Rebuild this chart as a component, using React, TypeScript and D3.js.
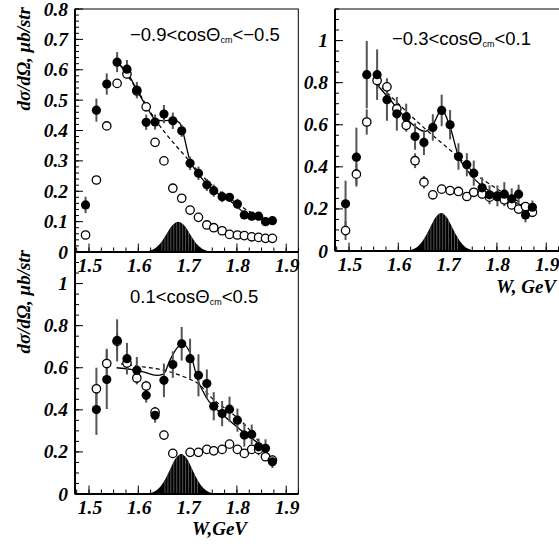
import React from 'react';
import * as d3 from 'd3';

// ---------- data ----------
const W = [1.493, 1.515, 1.536, 1.557, 1.577, 1.597, 1.616, 1.634, 1.652, 1.670, 1.688, 1.705, 1.722, 1.739, 1.753, 1.770, 1.785, 1.801, 1.815, 1.830, 1.844, 1.858, 1.872];

const P1_FILLED = [0.155, 0.467, 0.553, 0.625, 0.602, 0.533, 0.427, 0.428, 0.454, 0.432, 0.399, 0.292, 0.259, 0.221, 0.202, 0.182, 0.180, 0.158, 0.122, 0.118, 0.118, 0.100, 0.103];
const P1_FILLED_ERR = [0.027, 0.038, 0.035, 0.033, 0.030, 0.027, 0.025, 0.025, 0.030, 0.027, 0.020, 0.022, 0.022, 0.020, 0.020, 0.018, 0.014, 0.017, 0.014, 0.014, 0.014, 0.014, 0.013];
const P1_OPEN = [0.056, 0.237, 0.415, 0.555, 0.586, 0.530, 0.478, 0.361, 0.300, 0.210, 0.177, 0.138, 0.114, 0.089, 0.080, 0.070, 0.058, 0.056, 0.054, 0.050, 0.048, 0.045, 0.045];
const P1_OPEN_ERR = [0.005, 0.006, 0.007, 0.008, 0.008, 0.008, 0.007, 0.006, 0.006, 0.005, 0.005, 0.004, 0.004, 0.004, 0.004, 0.003, 0.003, 0.003, 0.003, 0.003, 0.003, 0.003, 0.003];
const P1_SOLID_W = [1.556, 1.58, 1.597, 1.617, 1.634, 1.651, 1.671, 1.684, 1.705, 1.725, 1.759, 1.793, 1.816, 1.84, 1.871];
const P1_SOLID_Y = [0.625, 0.585, 0.533, 0.478, 0.437, 0.432, 0.435, 0.425, 0.300, 0.250, 0.195, 0.160, 0.128, 0.116, 0.103];
const P1_DASH_W = [1.556, 1.597, 1.637, 1.671, 1.698, 1.72, 1.76, 1.8, 1.84, 1.871];
const P1_DASH_Y = [0.632, 0.535, 0.430, 0.360, 0.310, 0.268, 0.205, 0.160, 0.120, 0.103];

const P2_FILLED = [0.224, 0.446, 0.838, 0.838, 0.719, 0.652, 0.637, 0.544, 0.516, 0.587, 0.668, 0.600, 0.449, 0.410, 0.370, 0.300, 0.267, 0.262, 0.270, 0.248, 0.270, 0.171, 0.208];
const P2_FILLED_ERR = [0.11, 0.14, 0.16, 0.12, 0.10, 0.08, 0.063, 0.063, 0.06, 0.063, 0.075, 0.07, 0.063, 0.055, 0.06, 0.05, 0.045, 0.05, 0.057, 0.05, 0.045, 0.035, 0.032];
const P2_OPEN = [0.097, 0.365, 0.613, 0.810, 0.780, 0.676, 0.597, 0.429, 0.327, 0.267, 0.294, 0.287, 0.283, 0.259, 0.279, 0.271, 0.256, 0.259, 0.243, 0.219, 0.199, 0.211, 0.184];
const P2_OPEN_ERR = [0.045, 0.05, 0.06, 0.04, 0.04, 0.035, 0.03, 0.035, 0.03, 0.02, 0.02, 0.02, 0.02, 0.02, 0.02, 0.02, 0.02, 0.02, 0.02, 0.02, 0.02, 0.02, 0.02];
const P2_SOLID_W = [1.557, 1.583, 1.61, 1.635, 1.654, 1.67, 1.688, 1.705, 1.722, 1.739, 1.756, 1.786, 1.82, 1.853, 1.871];
const P2_SOLID_Y = [0.790, 0.720, 0.645, 0.590, 0.568, 0.600, 0.670, 0.590, 0.450, 0.386, 0.338, 0.283, 0.251, 0.214, 0.195];
const P2_DASH_W = [1.557, 1.6, 1.65, 1.7, 1.72, 1.757, 1.797, 1.838, 1.871];
const P2_DASH_Y = [0.800, 0.700, 0.590, 0.490, 0.450, 0.365, 0.300, 0.243, 0.195];

const P3_FILLED = [null, 0.401, 0.544, 0.730, 0.643, 0.588, 0.469, 0.374, 0.540, 0.615, 0.714, 0.643, 0.564, 0.525, 0.417, 0.382, 0.403, 0.351, 0.280, 0.283, 0.224, 0.217, 0.153];
const P3_FILLED_ERR = [null, 0.12, 0.14, 0.10, 0.075, 0.063, 0.035, 0.035, 0.08, 0.063, 0.08, 0.095, 0.10, 0.067, 0.067, 0.06, 0.06, 0.055, 0.055, 0.047, 0.04, 0.043, 0.03];
const P3_OPEN = [null, 0.500, 0.620, 0.725, 0.622, 0.551, 0.513, 0.389, 0.280, 0.193, null, 0.198, 0.198, 0.212, 0.205, 0.212, 0.237, 0.212, 0.193, 0.212, 0.212, 0.177, 0.161];
const P3_OPEN_ERR = [null, 0.10, 0.07, 0.04, 0.04, 0.03, 0.025, 0.025, 0.02, 0.015, null, 0.015, 0.015, 0.015, 0.015, 0.015, 0.015, 0.015, 0.015, 0.015, 0.015, 0.015, 0.015];
const P3_SOLID_W = [1.556, 1.585, 1.61, 1.637, 1.651, 1.664, 1.681, 1.692, 1.705, 1.721, 1.739, 1.772, 1.81, 1.843, 1.871];
const P3_SOLID_Y = [0.600, 0.592, 0.580, 0.564, 0.570, 0.635, 0.700, 0.710, 0.670, 0.540, 0.455, 0.375, 0.300, 0.240, 0.165];
const P3_DASH_W = [1.565, 1.6, 1.644, 1.7, 1.718, 1.752, 1.786, 1.82, 1.847, 1.871];
const P3_DASH_Y = [0.618, 0.607, 0.592, 0.550, 0.530, 0.450, 0.390, 0.320, 0.240, 0.165];

// narrow resonance shape (offsets from its centre, heights per panel)
const G_OFFSETS = [-0.07, -0.06, -0.05, -0.04, -0.03, -0.02, -0.01, 0, 0.01, 0.02, 0.03, 0.04, 0.05, 0.06, 0.07];
const G1_CENTER = 1.681;
const G1_H = [0.001, 0.0033, 0.0094, 0.022, 0.043, 0.069, 0.091, 0.100, 0.091, 0.069, 0.043, 0.022, 0.0094, 0.0033, 0.001];
const G2_CENTER = 1.687;
const G2_H = [0.0018, 0.006, 0.017, 0.040, 0.077, 0.123, 0.164, 0.180, 0.164, 0.123, 0.077, 0.040, 0.017, 0.006, 0.0018];
const G3_CENTER = 1.687;
const G3_H = [0.0019, 0.0063, 0.018, 0.042, 0.081, 0.130, 0.173, 0.190, 0.173, 0.130, 0.081, 0.042, 0.018, 0.0063, 0.0019];
const G_HATCH = [-0.033, -0.027, -0.021, -0.015, -0.009, -0.003, 0.003, 0.009, 0.015, 0.021, 0.027, 0.033];

const X_DOMAIN = [1.4716, 1.9245];
const X_TICKS = [1.5, 1.6, 1.7, 1.8, 1.9];
const X_TICK_LABELS = ['1.5', '1.6', '1.7', '1.8', '1.9'];
const Y1_TICKS = [0, 0.1, 0.2, 0.3, 0.4, 0.5, 0.6, 0.7, 0.8];
const Y1_TICK_LABELS = ['0', '0.1', '0.2', '0.3', '0.4', '0.5', '0.6', '0.7', '0.8'];
const Y2_TICKS = [0, 0.2, 0.4, 0.6, 0.8, 1];
const Y2_TICK_LABELS = ['0', '0.2', '0.4', '0.6', '0.8', '1'];

const TITLE1 = ['−0.9<cosΘ', 'cm', '<−0.5'];
const TITLE2 = ['−0.3<cosΘ', 'cm', '<0.1'];
const TITLE3 = ['0.1<cosΘ', 'cm', '<0.5'];
const Y_TITLE = 'dσ/dΩ, μb/str';

const SERIF = "'Liberation Serif', 'DejaVu Serif', 'Times New Roman', serif";
const SANS = "'Liberation Sans', Arial, Helvetica, sans-serif";

type PanelProps = {
  id: string;
  left: number; right: number; top: number; bottom: number; frameRight: number;
  yMax: number; yTicks: number[]; yLabels: string[]; yMinor: number;
  filled: (number | null)[]; filledErr: (number | null)[];
  open: (number | null)[]; openErr: (number | null)[];
  solidW: number[]; solidY: number[]; dashW: number[]; dashY: number[];
  gCenter: number; gH: number[];
  title: string[]; titleX: number; titleY: number;
};

function Panel(p: PanelProps) {
  const x = d3.scaleLinear().domain(X_DOMAIN).range([p.left, p.right]);
  const y = d3.scaleLinear().domain([0, p.yMax]).range([p.bottom, p.top]);

  const xMinor = d3.range(1.475, 1.9251, 0.025);
  const yMinor = d3.range(0, p.yMax + 1e-9, p.yMinor);

  const lineSolid = d3.line<number>().x((_, i) => x(p.solidW[i])).y((d) => y(d)).curve(d3.curveMonotoneX);
  const lineDash = d3.line<number>().x((_, i) => x(p.dashW[i])).y((d) => y(d)).curve(d3.curveMonotoneX);
  const area = d3.area<number>()
    .x((_, i) => x(p.gCenter + G_OFFSETS[i]))
    .y0(y(0))
    .y1((d) => y(d))
    .curve(d3.curveCatmullRom);
  const gPath = area(p.gH) || '';

  return (
    <g>
      <defs>
        <clipPath id={p.id + '-g'}>
          <path d={gPath} />
        </clipPath>
      </defs>
      {/* frame */}
      <rect x={p.left} y={p.top} width={p.frameRight - p.left} height={p.bottom - p.top} fill="none" stroke="#000" strokeWidth={1} />
      {/* resonance */}
      <path d={gPath} fill="#000" />
      <g clipPath={`url(#${p.id}-g)`}>
        {G_HATCH.map((o, i) => (
          <line key={i} x1={x(p.gCenter + o)} x2={x(p.gCenter + o)} y1={p.top} y2={p.bottom} stroke="#777" strokeWidth={0.7} />
        ))}
      </g>
      {/* curves */}
      <path d={lineDash(p.dashY) || ''} fill="none" stroke="#000" strokeWidth={1.2} strokeDasharray="4,3" />
      <path d={lineSolid(p.solidY) || ''} fill="none" stroke="#000" strokeWidth={1.3} />
      {/* error bars */}
      {p.filled.map((v, i) => v == null ? null : (
        <line key={'fe' + i} x1={x(W[i])} x2={x(W[i])} y1={y(v - (p.filledErr[i] as number))} y2={y(v + (p.filledErr[i] as number))} stroke="#555" strokeWidth={2} />
      ))}
      {p.open.map((v, i) => v == null ? null : (
        <line key={'oe' + i} x1={x(W[i])} x2={x(W[i])} y1={y(v - (p.openErr[i] as number))} y2={y(v + (p.openErr[i] as number))} stroke="#555" strokeWidth={2} />
      ))}
      {/* open markers */}
      {p.open.map((v, i) => v == null ? null : (
        <circle key={'o' + i} cx={x(W[i])} cy={y(v)} r={4.2} fill="#fff" stroke="#000" strokeWidth={1.3} />
      ))}
      {/* filled markers */}
      {p.filled.map((v, i) => v == null ? null : (
        <circle key={'f' + i} cx={x(W[i])} cy={y(v)} r={4.6} fill="#000" />
      ))}
      {/* axes */}
      <line x1={p.left} x2={p.left} y1={p.top} y2={p.bottom} stroke="#000" strokeWidth={2} />
      <line x1={p.left} x2={p.frameRight} y1={p.bottom} y2={p.bottom} stroke="#000" strokeWidth={2} />
      {yMinor.map((t, i) => (
        <line key={'ym' + i} x1={p.left} x2={p.left + 4} y1={y(t)} y2={y(t)} stroke="#000" strokeWidth={1} />
      ))}
      {p.yTicks.map((t, i) => (
        <g key={'yt' + i}>
          <line x1={p.left} x2={p.left + 8} y1={y(t)} y2={y(t)} stroke="#000" strokeWidth={1} />
          <text x={p.left - 7} y={y(t) + 6.5} textAnchor="end" fontFamily={SERIF} fontStyle="italic" fontWeight="bold" fontSize={19.5}>{p.yLabels[i]}</text>
        </g>
      ))}
      {xMinor.map((t, i) => (
        <line key={'xm' + i} x1={x(t)} x2={x(t)} y1={p.bottom} y2={p.bottom - 4.5} stroke="#000" strokeWidth={1} />
      ))}
      {X_TICKS.map((t, i) => (
        <g key={'xt' + i}>
          <line x1={x(t)} x2={x(t)} y1={p.bottom} y2={p.bottom - 8.5} stroke="#000" strokeWidth={1} />
          <text x={x(t) + 1} y={p.bottom + 20} textAnchor="middle" fontFamily={SERIF} fontStyle="italic" fontWeight="bold" fontSize={19.5}>{X_TICK_LABELS[i]}</text>
        </g>
      ))}
      {/* title */}
      <text x={p.titleX} y={p.titleY} fontFamily={SANS} fontSize={18.5}>
        {p.title[0]}
        <tspan fontSize={9} dy={1.5}>{p.title[1]}</tspan>
        <tspan dy={-1.5}>{p.title[2]}</tspan>
      </text>
    </g>
  );
}

export default function App() {
  return (
    <svg width={559} height={548} style={{ position: 'absolute', left: 0, top: 0, background: '#fff' }}>
      <rect x={0} y={0} width={559} height={548} fill="#fff" />
      <Panel id="p1" left={75} right={298.3} frameRight={298.3} top={9} bottom={252} yMax={0.8} yTicks={Y1_TICKS} yLabels={Y1_TICK_LABELS} yMinor={0.02}
        filled={P1_FILLED} filledErr={P1_FILLED_ERR} open={P1_OPEN} openErr={P1_OPEN_ERR}
        solidW={P1_SOLID_W} solidY={P1_SOLID_Y} dashW={P1_DASH_W} dashY={P1_DASH_Y}
        gCenter={G1_CENTER} gH={G1_H} title={TITLE1} titleX={130} titleY={41} />
      <Panel id="p2" left={335} right={558.3} frameRight={562} top={9} bottom={251} yMax={1.15} yTicks={Y2_TICKS} yLabels={Y2_TICK_LABELS} yMinor={0.05}
        filled={P2_FILLED} filledErr={P2_FILLED_ERR} open={P2_OPEN} openErr={P2_OPEN_ERR}
        solidW={P2_SOLID_W} solidY={P2_SOLID_Y} dashW={P2_DASH_W} dashY={P2_DASH_Y}
        gCenter={G2_CENTER} gH={G2_H} title={TITLE2} titleX={392} titleY={45} />
      <Panel id="p3" left={75} right={298.3} frameRight={298.3} top={252} bottom={494} yMax={1.15} yTicks={Y2_TICKS} yLabels={Y2_TICK_LABELS} yMinor={0.05}
        filled={P3_FILLED} filledErr={P3_FILLED_ERR} open={P3_OPEN} openErr={P3_OPEN_ERR}
        solidW={P3_SOLID_W} solidY={P3_SOLID_Y} dashW={P3_DASH_W} dashY={P3_DASH_Y}
        gCenter={G3_CENTER} gH={G3_H} title={TITLE3} titleX={130} titleY={303} />
      {/* axis titles */}
      <text x={556} y={293} textAnchor="end" fontFamily={SERIF} fontStyle="italic" fontWeight="bold" fontSize={19}>W, GeV</text>
      <text x={247} y={535} textAnchor="end" fontFamily={SERIF} fontStyle="italic" fontWeight="bold" fontSize={19}>W,GeV</text>
      <text transform="translate(30,7) rotate(-90)" textAnchor="end" fontFamily={SERIF} fontStyle="italic" fontWeight="bold" fontSize={19}>{Y_TITLE}</text>
      <text transform="translate(30,250) rotate(-90)" textAnchor="end" fontFamily={SERIF} fontStyle="italic" fontWeight="bold" fontSize={19}>{Y_TITLE}</text>
    </svg>
  );
}
